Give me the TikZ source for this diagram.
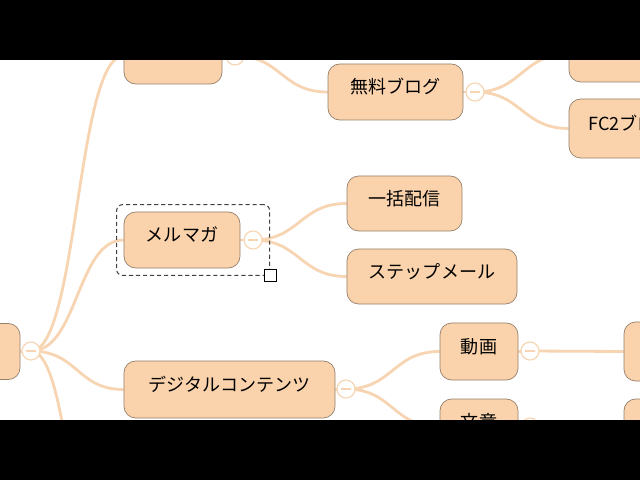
\documentclass[tikz,border=0pt]{standalone}
\usepackage{fontspec}
\newfontfamily\jpfont{Noto Sans CJK JP}
\definecolor{mmfill}{RGB}{250,211,172}
\definecolor{mmedge}{RGB}{150,128,108}
\definecolor{mmline}{RGB}{247,212,178}
\usetikzlibrary{backgrounds,fit}

\begin{document}
\begin{tikzpicture}[x=0.03cm, y=-0.03cm,
  topic/.style={draw=mmedge, fill=mmfill, line width=0.6pt, rounded corners=10pt, minimum height=1.68cm, inner sep=0pt, font=\jpfont\fontsize{15.4}{18}\selectfont, text height=10pt, text depth=6.7pt},
  fold/.style={circle, draw=mmline, fill=white, line width=1pt, minimum size=0.54cm, inner sep=0pt, path picture={\draw[mmline, line width=1pt] ([xshift=-0.15cm]path picture bounding box.center) -- ([xshift=0.15cm]path picture bounding box.center);}},
  branch/.style={mmline, line width=2.4pt},
  selbox/.style={draw=black!75, dash pattern=on 3.5pt off 2.5pt, line width=0.9pt, rounded corners=5pt, inner sep=0.21cm}]
  \useasboundingbox (0,0) rectangle (640,480);

  % Root (cut off at left)
  \node[topic, minimum width=2.4cm] (root) at (-20,351.5) {};
  \node[fold] (rootfold) at (31,351) {};

  % Upper branch
  \node[topic, minimum width=2.94cm] (tl) at (173,56) {};
  \node[fold] (tlfold) at (235,56) {};
  \node[topic, minimum width=4.05cm] (blog) at (395.5,92) {無料ブログ};
  \node[fold] (blogfold) at (475,92) {};
  \node[topic, minimum width=4.2cm] (tr) at (639,54) {};
  \node[topic, minimum width=3.72cm, minimum height=1.77cm] (fc2) at (631,128.5) {FC2ブログ};

  % Mail magazine (selected)
  \node[topic, minimum width=3.48cm] (mail) at (182,240) {メルマガ};
  \node[fold] (mailfold) at (253,240) {};
  \node[topic, minimum width=3.45cm, minimum height=1.65cm] (bulk) at (404.5,203.5) {一括配信};
  \node[topic, minimum width=5.1cm, minimum height=1.65cm] (stepmail) at (432,276.5) {ステップメール};
  \node[selbox, fit=(mail)(mailfold)] (sel) {};
  \node[draw=black, fill=white, line width=0.8pt, minimum size=0.36cm, inner sep=0pt] (handle) at (sel.south east) {};

  % Digital contents
  \node[topic, minimum width=6.33cm, minimum height=1.71cm] (digital) at (229.5,389.5) {デジタルコンテンツ};
  \node[fold] (digfold) at (346,389) {};
  \node[topic, minimum width=2.34cm, minimum height=1.71cm] (video) at (479,351.5) {動画};
  \node[fold] (vidfold) at (530,351) {};
  \node[topic, minimum width=2.34cm] (article) at (479,427) {文章};
  \node[fold] (artfold) at (530,427) {};
  \node[topic, minimum width=2.4cm, minimum height=1.77cm] (vidsub) at (664,351.5) {};
  \node[topic, minimum width=2.4cm] (artsub) at (664,427) {};
  \coordinate (below) at (124,700);

  % Connectors
  \begin{scope}[on background layer]
    \fill[white] (0,0) rectangle (640,480);
    \draw[branch] (root.east) -- (rootfold.center);
    \draw[branch] (rootfold.center) .. controls +(47,0) and +(-47,0) .. (tl.west);
    \draw[branch] (rootfold.center) .. controls +(47,0) and +(-47,0) .. (mail.west);
    \draw[branch] (rootfold.center) .. controls +(47,0) and +(-47,0) .. (digital.west);
    \draw[branch] (rootfold.center) .. controls +(47,0) and +(-47,0) .. (below);
    \draw[branch] (tl.east) -- (tlfold.center);
    \draw[branch] (tlfold.center) .. controls +(47,0) and +(-47,0) .. (blog.west);
    \draw[branch] (blog.east) -- (blogfold.center);
    \draw[branch] (blogfold.center) .. controls +(47,0) and +(-47,0) .. (tr.west);
    \draw[branch] (blogfold.center) .. controls +(47,0) and +(-47,0) .. (fc2.west);
    \draw[branch] (mail.east) -- (mailfold.center);
    \draw[branch] (mailfold.center) .. controls +(47,0) and +(-47,0) .. (bulk.west);
    \draw[branch] (mailfold.center) .. controls +(47,0) and +(-47,0) .. (stepmail.west);
    \draw[branch] (digital.east) -- (digfold.center);
    \draw[branch] (digfold.center) .. controls +(47,0) and +(-47,0) .. (video.west);
    \draw[branch] (digfold.center) .. controls +(47,0) and +(-47,0) .. (article.west);
    \draw[branch] (video.east) -- (vidfold.center) -- (vidsub.west);
    \draw[branch] (article.east) -- (artfold.center) -- (artsub.west);
  \end{scope}

  % Letterbox bars
  \fill[black] (0,0) rectangle (640,60);
  \fill[black] (0,420) rectangle (640,480);
\end{tikzpicture}
\end{document}
